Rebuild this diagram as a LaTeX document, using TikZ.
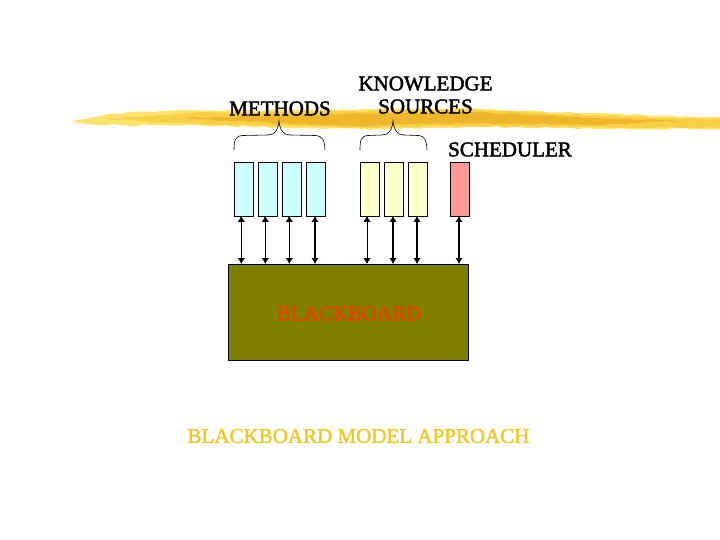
\documentclass[tikz,border=0pt]{standalone}
\usepackage{fontspec}
\setmainfont{Liberation Serif}[FakeBold=2]
\usetikzlibrary{arrows.meta,decorations.pathmorphing}
\definecolor{boxblue}{HTML}{CCFFFF}
\definecolor{boxyellow}{HTML}{FFFFCC}
\definecolor{boxred}{HTML}{FF9999}
\definecolor{olive}{HTML}{808000}
\definecolor{brushA}{HTML}{FFE36A}
\definecolor{brushB}{HTML}{F9CF45}
\definecolor{brushC}{HTML}{EFB62C}
\definecolor{titlecol}{HTML}{F0C828}
\definecolor{boardtext}{HTML}{E84000}
\tikzset{
  x=1pt,y=-1pt,
  cell/.style={draw=black,line width=0.6pt,minimum width=18.5pt,minimum height=54pt,inner sep=0pt,anchor=north west},
  link/.style={{Latex[length=6pt,width=7.5pt]}-{Latex[length=6pt,width=7.5pt]},line width=0.8pt},
  linkb/.style={link,line width=1.5pt},
  lab/.style={font=\fontsize{21}{23}\selectfont,inner sep=0pt,text=black,align=center},
  brace/.style={draw=black,line width=0.6pt},
  rough/.style={decorate,decoration={random steps,segment length=7pt,amplitude=0.9pt}}
}
\pgfmathsetseed{7}
\begin{document}
\begin{tikzpicture}
\useasboundingbox (0,0) rectangle (720,540);
% brush streak
\fill[brushA,rough] (72,121) -- (100,116) -- (132,112) -- (200,110.5) -- (300,110) -- (400,109) -- (470,108) -- (520,111) -- (600,113) -- (680,117) -- (720,117) -- (720,129) -- (640,129) -- (560,128) -- (470,127) -- (380,129) -- (300,128) -- (200,125.5) -- (120,125) -- (85,124) -- cycle;
\fill[brushB,rough] (105,119) -- (200,112.5) -- (300,112) -- (400,110.5) -- (480,110) -- (560,114) -- (660,118) -- (720,118.5) -- (720,127.5) -- (620,127.5) -- (540,126.5) -- (440,126) -- (370,127.5) -- (290,126) -- (200,124) -- cycle;
\fill[brushC,rough] (180,118) -- (300,114.5) -- (400,113) -- (490,113) -- (570,117) -- (680,121) -- (600,125) -- (500,123.5) -- (420,123.5) -- (360,126) -- (290,124) -- cycle;
% labels
\node[lab] (methods) at (280,108.5) {METHODS};
\node[lab] (ks) at (425.5,95) {KNOWLEDGE\\SOURCES};
\node[lab] (sched) at (510,149.5) {SCHEDULER};
% boxes
\node[cell,fill=boxblue] (m1) at (234,162) {};
\node[cell,fill=boxblue] (m2) at (258,162) {};
\node[cell,fill=boxblue] (m3) at (282,162) {};
\node[cell,fill=boxblue] (m4) at (306,162) {};
\node[cell,fill=boxyellow] (k1) at (360,162) {};
\node[cell,fill=boxyellow] (k2) at (384,162) {};
\node[cell,fill=boxyellow] (k3) at (408,162) {};
\node[cell,fill=boxred] (s1) at (450,162) {};
% board
\node[draw=black,line width=0.8pt,fill=olive,minimum width=240pt,minimum height=96pt,inner sep=0pt,anchor=north west] (board) at (228,264) {};
\node[font=\fontsize{21}{23}\selectfont,text=boardtext,inner sep=0pt] (bbt) at (349,313.5) {BLACKBOARD};
\node[font=\fontsize{21}{23}\selectfont,text=titlecol,inner sep=0pt] (title) at (358.5,436) {BLACKBOARD MODEL APPROACH};
% arrow start points on the lower box edges
\coordinate (a1) at (241.3,216);
\coordinate (a2) at (265.3,216);
\coordinate (a3) at (289.3,216);
\coordinate (a4) at (315,216);
\coordinate (a5) at (367,216);
\coordinate (a6) at (393,216);
\coordinate (a7) at (417,216);
\coordinate (a8) at (459,216);
\draw[link] (a1) -- (a1 |- board.north);
\draw[link] (a2) -- (a2 |- board.north);
\draw[link] (a3) -- (a3 |- board.north);
\draw[linkb] (a4) -- (a4 |- board.north);
\draw[link] (a5) -- (a5 |- board.north);
\draw[linkb] (a6) -- (a6 |- board.north);
\draw[linkb] (a7) -- (a7 |- board.north);
\draw[linkb] (a8) -- (a8 |- board.north);
% braces
\draw[brace] (234,150) .. controls (234,140) and (235,136) .. (243,135.5) -- (268,135) .. controls (275,135) and (278,130) .. (279,121) .. controls (280,130) and (283,135) .. (290,135) -- (315,135.5) .. controls (323,136) and (324.5,140) .. (325,150);
\draw[brace] (360,150) .. controls (360,140) and (361,136) .. (368,135.5) -- (382,135) .. controls (389,135) and (392,130) .. (393,121) .. controls (394,130) and (397,135) .. (404,135) -- (418,135.5) .. controls (425,136) and (426.5,140) .. (427,150);
\end{tikzpicture}
\end{document}
